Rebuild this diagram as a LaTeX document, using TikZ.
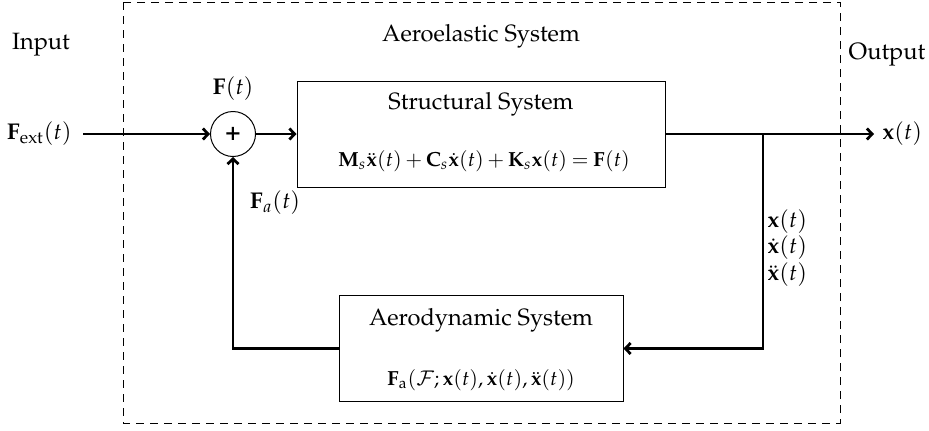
\documentclass[tikz,border=0pt]{standalone}
\usepackage[T1]{fontenc}
\usepackage{mathpazo}
\usetikzlibrary{arrows.meta}
\begin{document}
\begin{tikzpicture}[x=0.5pt,y=-0.5pt,
  font=\fontsize{11.8}{14}\selectfont,
  sig/.style={line width=1.4pt,-{Straight Barb[length=2.6pt,width=5.5pt]}},
  blockbox/.style={draw,line width=0.5pt,minimum width=184pt,minimum height=53pt,inner sep=0pt},
  lbl/.style={inner sep=0pt},
  mlbl/.style={inner sep=0pt,font=\fontsize{11.4}{13}\selectfont}]
\useasboundingbox (0,0) rectangle (929,430);
% dashed system boundary
\draw[line width=0.5pt,dash pattern=on 4pt off 3pt] (123,2) rectangle (840,423);
\node[lbl] (inp) at (41,45) {Input};
\node[lbl] (aes) at (481,36) {Aeroelastic System};
\node[lbl] (outp) at (887,55) {Output};
% blocks
\node[blockbox] (st) at (481,134) {};
\node[lbl] (sttitle) at (481,104) {Structural System};
\node[lbl,font=\fontsize{10.2}{12}\selectfont] (steq) at (484,161) {$\medmuskip=3mu\thickmuskip=4mu\mathbf{M}_s\ddot{\mathbf{x}}(t)+\mathbf{C}_s\dot{\mathbf{x}}(t)+\mathbf{K}_s\mathbf{x}(t)=\mathbf{F}(t)$};
\node[blockbox,minimum width=142pt] (ae) at (481,348.5) {};
\node[lbl] (aetitle) at (481,320) {Aerodynamic System};
\node[lbl,font=\fontsize{10.2}{12}\selectfont] (aeeq) at (481,380) {$\mathbf{F}_{\mathrm{a}}(\mathcal{F};\mathbf{x}(t),\dot{\mathbf{x}}(t),\ddot{\mathbf{x}}(t))$};
% summing junction
\node[draw,circle,line width=0.5pt,minimum size=22.5pt,inner sep=0pt,font=\fontsize{13}{13}\selectfont\bfseries] (sum) at (233,134) {+};
\node[mlbl] (Ft) at (233,89) {$\mathbf{F}(t)$};
\node[mlbl] (Fa) at (275,203) {$\mathbf{F}_{a}(t)$};
% input / output
\node[mlbl,anchor=east] (Fext) at (72,134) {$\mathbf{F}_{\mathrm{ext}}(t)$};
\node[mlbl,anchor=west] (xout) at (882,134) {$\mathbf{x}(t)$};
\coordinate (outend) at (874,134);
\coordinate (branch) at (763,134);
\coordinate (corner) at (763,348.5);
\coordinate (fbcorner) at (233,348.5);
% connectors
\draw[sig] (Fext.east) ++(11,0) -- (sum.west);
\draw[sig] (sum.east) -- (st.west);
\draw[sig] (st.east) -- (outend);
\draw[sig] (branch) -- (corner) -- (ae.east);
\draw[sig] (ae.west) -- (fbcorner) -- (sum.south);
% state labels
\node[mlbl,anchor=west] (x1) at (767,222) {$\mathbf{x}(t)$};
\node[mlbl,anchor=west] (x2) at (767,248) {$\dot{\mathbf{x}}(t)$};
\node[mlbl,anchor=west] (x3) at (767,275) {$\ddot{\mathbf{x}}(t)$};
\end{tikzpicture}
\end{document}
